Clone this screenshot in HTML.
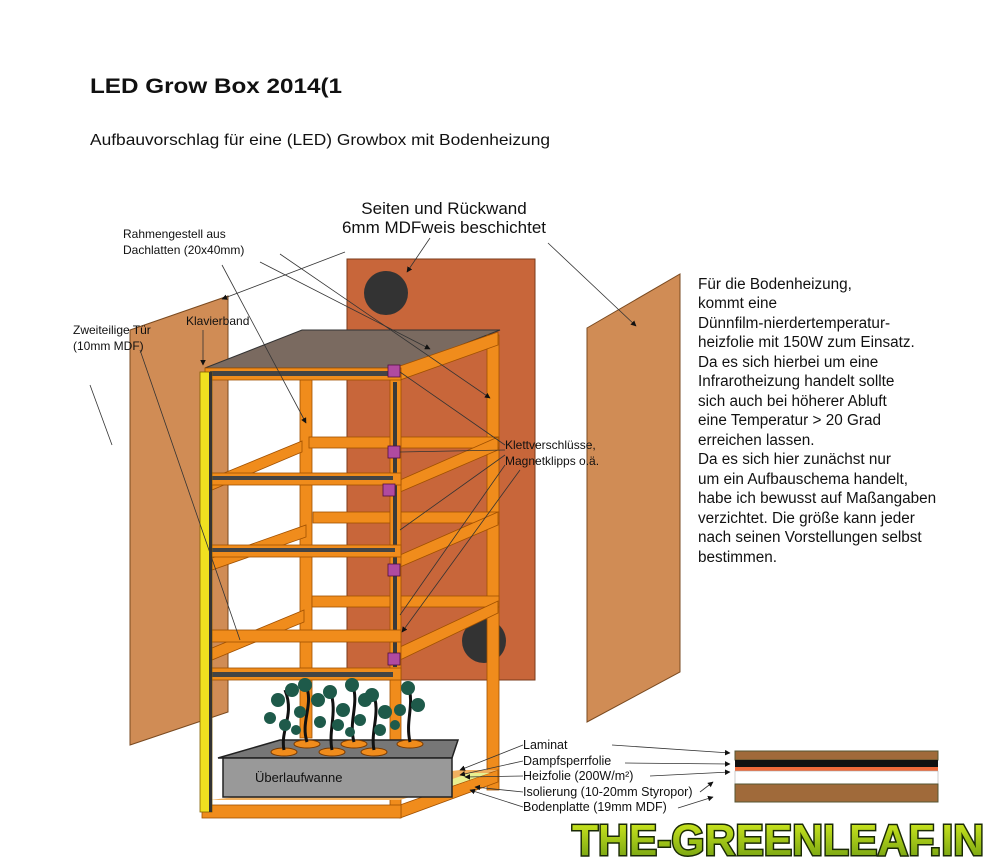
<!DOCTYPE html>
<html><head><meta charset="utf-8"><style>
body{margin:0;background:#fff;width:996px;height:864px;overflow:hidden}
svg{display:block}
text{font-family:"Liberation Sans",sans-serif;fill:#111}
</style></head><body>
<svg width="996" height="864" viewBox="0 0 996 864" xmlns="http://www.w3.org/2000/svg">
<defs>
<marker id="a" viewBox="0 0 10 10" refX="9" refY="5" markerWidth="7" markerHeight="7" orient="auto"><path d="M0,0L10,5L0,10z" fill="#111"/></marker>
<linearGradient id="g" x1="0" y1="0" x2="0" y2="1"><stop offset="0" stop-color="#d8f020"/><stop offset="1" stop-color="#6a9a10"/></linearGradient>
</defs>
<text x="90" y="93" font-size="21" font-weight="bold" textLength="252" lengthAdjust="spacingAndGlyphs">LED Grow Box 2014(1</text>
<text x="90" y="145" font-size="16" textLength="460" lengthAdjust="spacingAndGlyphs">Aufbauvorschlag für eine (LED) Growbox mit Bodenheizung</text>
<text x="444" y="214" font-size="17" text-anchor="middle">Seiten und Rückwand</text>
<text x="444" y="233" font-size="17" text-anchor="middle">6mm MDFweis beschichtet</text>
<text x="123" y="238" font-size="12">Rahmengestell aus</text>
<text x="123" y="254" font-size="12">Dachlatten (20x40mm)</text>

<!-- back panel -->
<rect x="347" y="259" width="188" height="421" fill="#c8663a" stroke="#7a3a1a" stroke-width="1"/>
<circle cx="386" cy="293" r="22" fill="#333"/>
<circle cx="484" cy="641" r="22" fill="#333"/>
<!-- right panel -->
<polygon points="587,328 680,274 680,672 587,722" fill="#d08c55" stroke="#7a4a20"/>
<!-- door -->
<polygon points="130,330 228,296 228,712 130,745" fill="#d08c55" stroke="#7a4a20"/>
<text x="73" y="334" font-size="12">Zweiteilige Tür</text>
<text x="73" y="350" font-size="12">(10mm MDF)</text>
<text x="186" y="325" font-size="12">Klavierband</text>

<!-- top -->
<polygon points="205,368 302,330 500,330 402,368" fill="#7a6a60" stroke="#333"/>
<rect x="487" y="335" width="12" height="455" fill="#f08c1c" stroke="#a05000" stroke-width="0.8"/>
<rect x="300" y="378" width="12" height="360" fill="#f08c1c" stroke="#a05000" stroke-width="0.8"/>
<g fill="#f08c1c" stroke="#a05000" stroke-width="0.8">
<rect x="309" y="437" width="190" height="11"/>
<rect x="313" y="512" width="186" height="11"/>
<rect x="312" y="596" width="187" height="11"/>
<polygon points="212,478 302,441 302,452 212,490"/>
<polygon points="212,558 306,525 306,537 212,570"/>
<polygon points="212,648 304,610 304,622 212,660"/>
<polygon points="400,366 498,332 498,345 400,380"/>
<polygon points="400,480 498,437 498,450 400,492"/>
<polygon points="400,555 498,512 498,525 400,567"/>
<polygon points="400,647 498,601 498,613 400,660"/>
<polygon points="400,805 498,770 498,782 400,818"/>
</g>
<rect x="390" y="372" width="11" height="445" fill="#f08c1c" stroke="#a05000" stroke-width="0.8"/>
<rect x="393" y="382" width="4" height="285" fill="#3a3a3a"/>
<g fill="#f08c1c" stroke="#a05000" stroke-width="0.8">
<rect x="205" y="368" width="196" height="12"/>
<rect x="203" y="473" width="198" height="12"/>
<rect x="205" y="545" width="196" height="12"/>
<rect x="203" y="630" width="198" height="12"/>
<rect x="203" y="668" width="198" height="12"/>
</g>
<g fill="#444">
<rect x="210" y="371" width="180" height="5"/>
<rect x="208" y="476" width="185" height="4"/>
<rect x="210" y="548" width="185" height="4"/>
<rect x="208" y="672" width="185" height="5"/>
</g>
<polygon points="210,800 400,800 498,770 460,770" fill="#f0b060"/>
<polygon points="420,790 470,773 490,773 440,790" fill="#e8f090"/>
<polygon points="218,758 280,740 458,740 452,758" fill="#777" stroke="#222" stroke-width="1.5"/>
<rect x="223" y="758" width="229" height="39" fill="#999" stroke="#222" stroke-width="1.5"/>
<text x="255" y="782" font-size="13" fill="#333">Überlaufwanne</text>
<g fill="#f08c1c" stroke="#7a3a00" stroke-width="1">
<ellipse cx="284" cy="752" rx="13" ry="4"/><ellipse cx="307" cy="744" rx="13" ry="4"/>
<ellipse cx="332" cy="752" rx="13" ry="4"/><ellipse cx="354" cy="744" rx="13" ry="4"/>
<ellipse cx="374" cy="752" rx="13" ry="4"/><ellipse cx="410" cy="744" rx="13" ry="4"/>
</g>
<g stroke="#111" stroke-width="3" fill="none">
<path d="M284,750 C280,730 295,715 285,690"/><path d="M307,742 C300,720 315,705 305,682"/>
<path d="M332,750 C328,730 338,712 330,690"/><path d="M354,742 C348,720 360,705 352,682"/>
<path d="M374,750 C370,730 382,712 372,690"/><path d="M410,742 C405,720 415,705 408,685"/>
</g>
<g fill="#1e5a4a">
<circle cx="278" cy="700" r="7"/><circle cx="292" cy="690" r="7"/><circle cx="300" cy="712" r="6"/>
<circle cx="305" cy="685" r="7"/><circle cx="318" cy="700" r="7"/><circle cx="320" cy="722" r="6"/>
<circle cx="330" cy="692" r="7"/><circle cx="343" cy="710" r="7"/><circle cx="338" cy="725" r="6"/>
<circle cx="352" cy="685" r="7"/><circle cx="365" cy="700" r="7"/><circle cx="360" cy="720" r="6"/>
<circle cx="372" cy="695" r="7"/><circle cx="385" cy="712" r="7"/><circle cx="380" cy="730" r="6"/>
<circle cx="408" cy="688" r="7"/><circle cx="418" cy="705" r="7"/><circle cx="400" cy="710" r="6"/>
<circle cx="285" cy="725" r="6"/><circle cx="270" cy="718" r="6"/>
<circle cx="296" cy="730" r="5"/><circle cx="350" cy="732" r="5"/><circle cx="395" cy="725" r="5"/>
</g>
<rect x="202" y="805" width="199" height="13" fill="#f08c1c" stroke="#a05000" stroke-width="0.8"/>
<rect x="200" y="372" width="12" height="440" fill="#f0e020" stroke="#806000" stroke-width="0.8"/>
<rect x="209" y="372" width="3" height="440" fill="#333"/>
<g fill="#b04aa0" stroke="#501040" stroke-width="0.8">
<rect x="388" y="365" width="12" height="12"/><rect x="388" y="446" width="12" height="12"/>
<rect x="383" y="484" width="12" height="12"/><rect x="388" y="564" width="12" height="12"/>
<rect x="388" y="653" width="12" height="12"/>
</g>

<g stroke="#333" stroke-width="0.8" fill="none">
<line x1="345" y1="252" x2="222" y2="299" marker-end="url(#a)"/>
<line x1="222" y1="265" x2="306" y2="423" marker-end="url(#a)"/>
<line x1="260" y1="262" x2="430" y2="349" marker-end="url(#a)"/>
<line x1="280" y1="254" x2="490" y2="398" marker-end="url(#a)"/>
<line x1="430" y1="238" x2="407" y2="272" marker-end="url(#a)"/>
<line x1="548" y1="243" x2="636" y2="326" marker-end="url(#a)"/>
<line x1="140" y1="350" x2="240" y2="640"/>
<line x1="90" y1="385" x2="112" y2="445"/>
<line x1="203" y1="330" x2="203" y2="365" marker-end="url(#a)"/>
<line x1="400" y1="372" x2="505" y2="445"/>
<line x1="400" y1="452" x2="505" y2="450"/>
<line x1="505" y1="455" x2="400" y2="530"/>
<line x1="505" y1="465" x2="400" y2="615"/>
<line x1="520" y1="470" x2="402" y2="632" marker-end="url(#a)"/>
<line x1="523" y1="745" x2="460" y2="770" marker-end="url(#a)"/>
<line x1="523" y1="761" x2="460" y2="775" marker-end="url(#a)"/>
<line x1="523" y1="776" x2="465" y2="777" marker-end="url(#a)"/>
<line x1="523" y1="792" x2="475" y2="787" marker-end="url(#a)"/>
<line x1="523" y1="807" x2="470" y2="790" marker-end="url(#a)"/>
<line x1="612" y1="745" x2="730" y2="753" marker-end="url(#a)"/>
<line x1="625" y1="763" x2="730" y2="764" marker-end="url(#a)"/>
<line x1="650" y1="776" x2="730" y2="772" marker-end="url(#a)"/>
<line x1="700" y1="792" x2="713" y2="782" marker-end="url(#a)"/>
<line x1="678" y1="808" x2="713" y2="797" marker-end="url(#a)"/>
</g>
<text x="505" y="449" font-size="12">Klettverschlüsse,</text>
<text x="505" y="465" font-size="12">Magnetklipps o.ä.</text>

<g font-size="12.5">
<text x="523" y="749">Laminat</text>
<text x="523" y="765">Dampfsperrfolie</text>
<text x="523" y="780">Heizfolie   (200W/m²)</text>
<text x="523" y="796">Isolierung (10-20mm Styropor)</text>
<text x="523" y="811">Bodenplatte (19mm MDF)</text>
</g>
<rect x="735" y="751" width="203" height="9" fill="#a06a3a" stroke="#553"/>
<rect x="735" y="760" width="203" height="7" fill="#111"/>
<rect x="735" y="767" width="203" height="4" fill="#f06a3a"/>
<rect x="735" y="771" width="203" height="13" fill="#fff" stroke="#aaa" stroke-width="0.6"/>
<rect x="735" y="784" width="203" height="18" fill="#a06a3a" stroke="#553"/>

<g font-size="15.3">
<text x="698" y="289">Für die Bodenheizung,</text>
<text x="698" y="308">kommt eine</text>
<text x="698" y="328">Dünnfilm-nierdertemperatur-</text>
<text x="698" y="347">heizfolie mit 150W zum Einsatz.</text>
<text x="698" y="367">Da es sich hierbei um eine</text>
<text x="698" y="386">Infrarotheizung handelt sollte</text>
<text x="698" y="406">sich auch bei höherer Abluft</text>
<text x="698" y="425">eine Temperatur  &gt; 20 Grad</text>
<text x="698" y="445">erreichen lassen.</text>
<text x="698" y="464">Da es sich hier zunächst nur</text>
<text x="698" y="484">um ein Aufbauschema handelt,</text>
<text x="698" y="503">habe ich bewusst auf Maßangaben</text>
<text x="698" y="523">verzichtet. Die größe kann jeder</text>
<text x="698" y="542">nach seinen Vorstellungen selbst</text>
<text x="698" y="562">bestimmen.</text>
</g>
<text x="572" y="855" font-size="44" font-weight="bold" textLength="412" lengthAdjust="spacingAndGlyphs" style="fill:url(#g);stroke:#1a2a05;stroke-width:3;paint-order:stroke">THE-GREENLEAF.IN</text>
</svg>
</body></html>
